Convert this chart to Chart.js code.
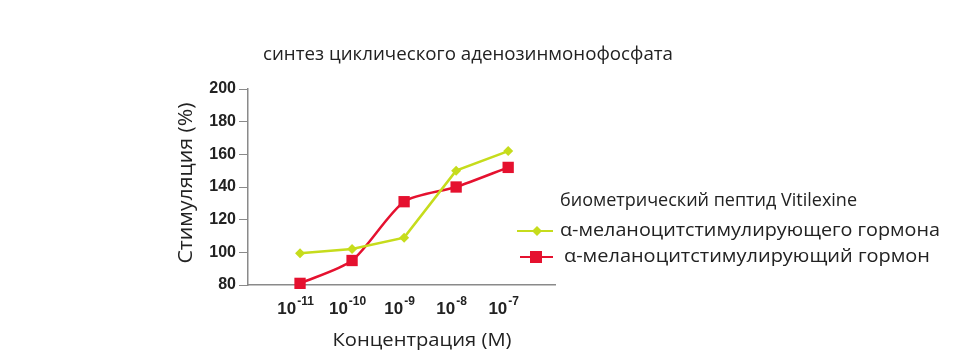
<!DOCTYPE html>
<html>
<head>
<meta charset="utf-8">
<script src="https://cdn.jsdelivr.net/npm/chart.js@4"></script>
<style>
  html, body { margin: 0; padding: 0; background: #fff; }
  #wrap { width: 980px; height: 362px; }
</style>
</head>
<body>
<div id="wrap"><canvas id="cAMPChart" width="980" height="362"></canvas></div>
<script>
// ── Data ──
const concentrations = [-11, -10, -9, -8, -7];            // log10(M)
const tickExponents = ['-11', '-10', '-9', '-8', '-7'];
const peptideValues = [99.5, 102, 109, 150, 162];          // Vitilexine
const hormoneValues = [81, 95, 131, 140, 152];             // α-MSH
const yTicks = [80, 100, 120, 140, 160, 180, 200];

const titleText = 'синтез циклического аденозинмонофосфата';
const xTitle = 'Концентрация (M)';
const yTitle = 'Стимуляция (%)';
const legendHeader = 'биометрический пептид Vitilexine';
const peptideLabel = 'α-меланоцитстимулирующего гормона';
const hormoneLabel = 'α-меланоцитстимулирующий гормон';

const GREEN = '#c6dc1c';
const RED = '#e5112f';
const TEXT = '#222';
const AXIS = '#8a8a8a';

const toPoints = vals => vals.map((v, i) => ({ x: concentrations[i], y: v }));

// draw text scaled so that it spans a given width (original used a Calibri-like face)
function fitText(ctx, text, x, y, width, size) {
    ctx.font = size + 'px "Open Sans"';
    const w = ctx.measureText(text).width;
    ctx.save();
    ctx.translate(x, y);
    ctx.scale(width / w, 1);
    ctx.fillText(text, 0, 0);
    ctx.restore();
}

// ── Extra text: title, axis titles, x tick labels, legend ──
const annotations = {
    id: 'annotations',
    afterDraw(chart) {
        const ctx = chart.ctx;
        const xs = chart.scales.x;
        ctx.save();
        ctx.fillStyle = TEXT;
        ctx.textBaseline = 'middle';

        ctx.textAlign = 'center';
        fitText(ctx, titleText, 468, 55, 410, 19);
        fitText(ctx, xTitle, 422, 341, 179, 19);

        ctx.save();
        ctx.translate(186, 183);
        ctx.rotate(-Math.PI / 2);
        fitText(ctx, yTitle, 0, 0, 161, 20);
        ctx.restore();

        // x tick labels: 10 with superscript exponent
        ctx.textAlign = 'left';
        ctx.textBaseline = 'alphabetic';
        concentrations.forEach((c, i) => {
            const px = xs.getPixelForValue(c);
            ctx.font = 'bold 17px "Liberation Sans", Arial';
            const wb = ctx.measureText('10').width;
            ctx.font = 'bold 12px "Liberation Sans", Arial';
            const we = ctx.measureText(tickExponents[i]).width;
            const left = px - (wb + we) / 2 - 5;
            ctx.font = 'bold 17px "Liberation Sans", Arial';
            ctx.fillText('10', left, 314);
            ctx.font = 'bold 12px "Liberation Sans", Arial';
            ctx.fillText(tickExponents[i], left + wb + 1, 305);
        });

        // legend
        ctx.textAlign = 'left';
        ctx.textBaseline = 'middle';
        fitText(ctx, legendHeader, 560, 201, 297, 18);
        fitText(ctx, peptideLabel, 560, 231, 380, 18);
        fitText(ctx, hormoneLabel, 564, 257, 366, 18);

        ctx.lineWidth = 2;
        ctx.strokeStyle = GREEN;
        ctx.beginPath(); ctx.moveTo(517, 231); ctx.lineTo(553, 231); ctx.stroke();
        ctx.fillStyle = GREEN;
        ctx.beginPath();
        ctx.moveTo(537, 226); ctx.lineTo(542, 231); ctx.lineTo(537, 236); ctx.lineTo(532, 231);
        ctx.closePath(); ctx.fill();

        ctx.strokeStyle = RED;
        ctx.beginPath(); ctx.moveTo(520, 257); ctx.lineTo(553, 257); ctx.stroke();
        ctx.fillStyle = RED;
        ctx.fillRect(530, 251, 12, 12);
        ctx.restore();
    }
};

new Chart(document.getElementById('cAMPChart'), {
    type: 'line',
    data: {
        datasets: [{
            label: peptideLabel,
            data: toPoints(peptideValues),
            borderColor: GREEN,
            backgroundColor: GREEN,
            borderWidth: 2.5,
            tension: 0,
            clip: false,
            pointStyle: 'rectRot',
            pointRadius: 5,
            pointBorderWidth: 0
        }, {
            label: hormoneLabel,
            data: toPoints(hormoneValues),
            borderColor: RED,
            backgroundColor: RED,
            borderWidth: 2.5,
            tension: 0.25,
            clip: false,
            pointStyle: 'rect',
            pointRadius: 8,
            pointBorderWidth: 0
        }]
    },
    options: {
        responsive: false,
        animation: false,
        layout: { padding: { left: 150, right: 425, top: 89, bottom: 0 } },
        plugins: {
            legend: { display: false },
            tooltip: { enabled: false }
        },
        scales: {
            x: {
                type: 'linear',
                min: -12,
                max: -6.1,
                afterFit: s => { s.height = 77; },
                afterBuildTicks: s => { s.ticks = concentrations.map(v => ({ value: v })); },
                grid: { display: false },
                border: { color: AXIS, width: 1.5 },
                ticks: { display: false }
            },
            y: {
                min: 80,
                max: 200,
                afterFit: s => { s.width = 98; },
                afterBuildTicks: s => { s.ticks = yTicks.map(v => ({ value: v })); },
                grid: { drawOnChartArea: false, tickLength: 9, color: AXIS },
                border: { color: AXIS, width: 1.5 },
                ticks: {
                    color: TEXT,
                    padding: 3,
                    font: { family: '"Liberation Sans", Arial', size: 16, weight: 'bold' }
                }
            }
        }
    },
    plugins: [annotations]
});
</script>
</body>
</html>
